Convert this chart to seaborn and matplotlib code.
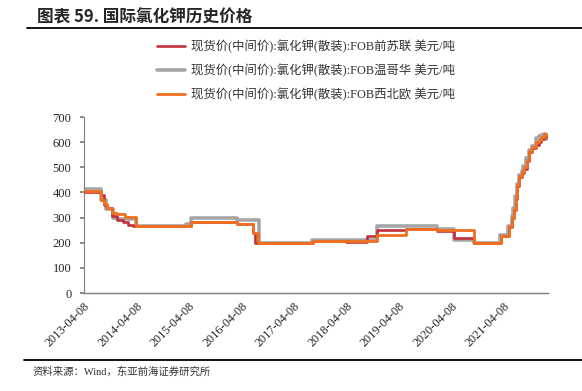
import matplotlib
matplotlib.use("Agg")
import matplotlib.pyplot as plt
import matplotlib.dates as mdates
import seaborn as sns
import pandas as pd

# 现货价 FOB 前苏联
red_dates = ["2013-04-08", "2013-08-01", "2013-08-25", "2013-09-16", "2013-10-20", "2013-11-24",
             "2014-01-03", "2014-02-09", "2014-03-14", "2015-04-20", "2016-03-10", "2016-06-24",
             "2016-07-10", "2017-08-20", "2018-04-08", "2018-08-31", "2018-11-08", "2019-05-28",
             "2019-12-30", "2020-04-26", "2020-09-10", "2021-03-20", "2021-05-15", "2021-06-05",
             "2021-06-16", "2021-06-30", "2021-07-10", "2021-07-22", "2021-08-12", "2021-08-25",
             "2021-09-15", "2021-09-30", "2021-10-22", "2021-11-16", "2021-12-08", "2021-12-22",
             "2022-01-11", "2022-01-30", "2022-02-07"]
red_vals = [400, 388, 350, 340, 305, 290, 283, 272, 265, 282, 275, 240,
            200, 205, 202, 225, 250, 255,
            247, 218, 200, 225, 262, 298,
            330, 375, 425, 460, 478, 495,
            525, 560, 575, 590, 600, 612,
            622, 628, 628]

# 现货价 FOB 温哥华
grey_dates = ["2013-04-08", "2013-08-05", "2013-09-10", "2013-10-25", "2013-11-25", "2014-04-08",
              "2015-03-20", "2015-04-20", "2016-03-10", "2016-08-10", "2017-08-14", "2018-11-08",
              "2019-12-30", "2020-04-26", "2020-09-10", "2021-03-10", "2021-05-10", "2021-06-01",
              "2021-06-14", "2021-06-28", "2021-07-08", "2021-07-20", "2021-08-10", "2021-08-22",
              "2021-09-12", "2021-09-28", "2021-10-20", "2021-11-16", "2021-12-08", "2021-12-22",
              "2022-01-11", "2022-01-30", "2022-02-07"]
grey_vals = [415, 370, 335, 300, 295, 265,
             275, 300, 290, 200, 212, 265,
             253, 210, 200, 230, 268, 305,
             340, 385, 432, 468, 485, 505,
             535, 568, 585, 615, 625, 628,
             632, 612, 612]

# 现货价 FOB 西北欧
orange_dates = ["2013-04-08", "2013-08-05", "2013-08-25", "2013-09-16", "2013-10-20", "2013-11-24",
                "2014-01-20", "2014-04-08", "2015-04-26", "2016-03-10", "2016-06-24", "2016-08-01",
                "2017-08-20", "2017-12-30", "2018-11-08", "2019-05-28", "2019-12-30", "2020-09-10",
                "2021-03-20", "2021-05-15", "2021-06-05", "2021-06-16", "2021-06-30", "2021-07-10",
                "2021-07-22", "2021-08-12", "2021-08-25", "2021-09-15", "2021-09-30", "2021-10-22",
                "2021-11-16", "2021-12-08", "2021-12-22", "2022-01-11", "2022-01-30", "2022-02-07"]
orange_vals = [405, 370, 355, 340, 320, 313,
               304, 265, 282, 275, 240, 200,
               205, 208, 229, 256, 250, 200,
               227, 265, 300, 335, 380, 430,
               466, 480, 500, 530, 566, 580,
               600, 610, 620, 633, 630, 630]

labels = ["现货价(中间价):氯化钾(散装):FOB前苏联 美元/吨",
          "现货价(中间价):氯化钾(散装):FOB温哥华 美元/吨",
          "现货价(中间价):氯化钾(散装):FOB西北欧 美元/吨"]
colors = ["#C0303A", "#A6A6A6", "#F07021"]

tick_dates = ["2013-04-08", "2014-04-08", "2015-04-08", "2016-04-08", "2017-04-08",
              "2018-04-08", "2019-04-08", "2020-04-08", "2021-04-08"]

sns.set_theme(style="white")
plt.rcParams["font.family"] = ["Liberation Serif", "Noto Sans CJK SC", "DejaVu Sans"]

fig = plt.figure(figsize=(5.82, 3.91), dpi=100)
ax = fig.add_axes([84 / 582, 1 - 293 / 391, (548 - 84) / 582, (293 - 117) / 391])

series = [(red_dates, red_vals), (grey_dates, grey_vals), (orange_dates, orange_vals)]
zorders = [3, 2, 4]
widths = [1.9, 2.6, 2.0]
for (d, v), lab, c, z, w in zip(series, labels, colors, zorders, widths):
    df = pd.DataFrame({"date": pd.to_datetime(d), "value": v})
    sns.lineplot(data=df, x="date", y="value", ax=ax, color=c, label=lab,
                 drawstyle="steps-post", linewidth=w, zorder=z)

ax.set_xlim(pd.Timestamp("2013-04-08"), pd.Timestamp("2022-02-10"))
ax.set_ylim(0, 700)
ax.set_yticks(range(0, 701, 100))
ax.set_xticks(pd.to_datetime(tick_dates))
ax.xaxis.set_major_formatter(mdates.DateFormatter("%Y-%m-%d"))
ax.set_xlabel("")
ax.set_ylabel("")
for lbl in ax.get_xticklabels():
    lbl.set_rotation(45)
    lbl.set_ha("right")
    lbl.set_rotation_mode("anchor")
ax.tick_params(axis="x", labelsize=8.8, length=0, pad=5)
ax.tick_params(axis="y", labelsize=9, length=3, direction="out", left=True, color="#7f7f7f", pad=6)
sns.despine(ax=ax)
ax.spines["left"].set_color("#7f7f7f")
ax.spines["bottom"].set_color("#7f7f7f")
ax.spines["left"].set_linewidth(0.8)
ax.spines["bottom"].set_linewidth(1.0)

handles, lab_list = ax.get_legend_handles_labels()
leg = ax.legend(handles, lab_list,
                loc="upper left", bbox_to_anchor=(157 / 582, 1 - 40 / 391),
                bbox_transform=fig.transFigure, frameon=False, fontsize=8.9,
                handlelength=2.3, handletextpad=0.45, labelspacing=0.85,
                borderaxespad=0, borderpad=0)
for t in leg.get_texts():
    t.set_color("#333333")

fig.text(37 / 582, 1 - 17 / 391, "图表 59. 国际氯化钾历史价格", fontsize=12, fontweight="bold",
         va="center", ha="left", family=["Noto Sans CJK SC", "DejaVu Sans"])
fig.add_artist(plt.Line2D([27 / 582, 1.0], [1 - 28 / 391, 1 - 28 / 391], color="black", linewidth=1.3))
fig.add_artist(plt.Line2D([24 / 582, 1.0], [1 - 360 / 391, 1 - 360 / 391], color="black", linewidth=1.3))
fig.text(33 / 582, 1 - 372 / 391, "资料来源：Wind，东亚前海证券研究所", fontsize=7.5,
         va="center", ha="left", color="#333333")

fig.savefig("out.png", dpi=100)
